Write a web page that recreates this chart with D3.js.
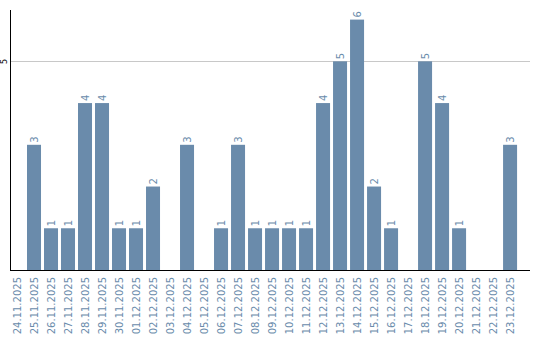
<!DOCTYPE html>
<html>
<head>
<meta charset="utf-8">
<script src="https://cdn.jsdelivr.net/npm/d3@7"></script>
<style>
  body { margin: 0; background: #fff; }
  text { font-family: "DejaVu Sans", sans-serif; }
</style>
</head>
<body>
<div id="chart"></div>
<script>
// Datos del gráfico
const fechas = ["24.11.2025","25.11.2025","26.11.2025","27.11.2025","28.11.2025","29.11.2025",
  "30.11.2025","01.12.2025","02.12.2025","03.12.2025","04.12.2025","05.12.2025","06.12.2025",
  "07.12.2025","08.12.2025","09.12.2025","10.12.2025","11.12.2025","12.12.2025","13.12.2025",
  "14.12.2025","15.12.2025","16.12.2025","17.12.2025","18.12.2025","19.12.2025","20.12.2025",
  "21.12.2025","22.12.2025","23.12.2025"];
const valores = [0,3,1,1,4,4,1,1,2,0,3,0,1,3,1,1,1,1,4,5,6,2,1,0,5,4,1,0,0,3];
const ticksY = [5];

const width = 540, height = 340;
const plotLeft = 10, plotRight = 530, plotTop = 10, plotBottom = 270;
const color = "#6a8bab";

const svg = d3.select("#chart").append("svg")
  .attr("width", width)
  .attr("height", height);

// Escalas
const x = d3.scaleBand()
  .domain(fechas)
  .range([plotLeft, plotRight])
  .paddingInner(0.176)
  .paddingOuter(0.38)
  .align(0);

const y = d3.scaleLinear()
  .domain([0, 6.23])
  .range([plotBottom, plotTop]);

// Línea de cuadrícula
svg.append("g")
  .selectAll("line")
  .data(ticksY)
  .join("line")
    .attr("x1", plotLeft)
    .attr("x2", plotRight)
    .attr("y1", d => Math.round(y(d)) + 0.5)
    .attr("y2", d => Math.round(y(d)) + 0.5)
    .attr("stroke", "#c8c8c8")
    .attr("stroke-width", 1);

// Barras
svg.append("g")
  .selectAll("rect")
  .data(valores)
  .join("rect")
    .attr("x", (d, i) => x(fechas[i]))
    .attr("y", d => y(d))
    .attr("width", x.bandwidth())
    .attr("height", d => plotBottom - y(d))
    .attr("fill", color);

// Etiquetas de valores (giradas)
svg.append("g")
  .selectAll("text")
  .data(valores.map((v, i) => ({v, f: fechas[i]})).filter(d => d.v > 0))
  .join("text")
    .attr("transform", d => `translate(${x(d.f) + x.bandwidth() / 2 + 3.5},${y(d.v) - 2}) rotate(-90)`)
    .attr("font-size", 10)
    .attr("fill", color)
    .text(d => d.v);

// Ejes
svg.append("line")
  .attr("x1", plotLeft + 0.5).attr("x2", plotLeft + 0.5)
  .attr("y1", plotTop).attr("y2", plotBottom)
  .attr("stroke", "#000").attr("stroke-width", 1);

svg.append("line")
  .attr("x1", plotLeft).attr("x2", plotRight)
  .attr("y1", plotBottom + 0.5).attr("y2", plotBottom + 0.5)
  .attr("stroke", "#000").attr("stroke-width", 1);

// Etiqueta del eje Y
svg.append("g")
  .selectAll("text")
  .data(ticksY)
  .join("text")
    .attr("transform", d => `translate(7,${y(d)}) rotate(-90)`)
    .attr("text-anchor", "middle")
    .attr("font-size", 8)
    .attr("fill", "#000")
    .text(d => d);

// Etiquetas del eje X
svg.append("g")
  .selectAll("text")
  .data(fechas)
  .join("text")
    .attr("transform", d => `translate(${x(d) + x.bandwidth() / 2 + 3.5},277) rotate(-90)`)
    .attr("text-anchor", "end")
    .attr("font-size", 10)
    .attr("fill", color)
    .text(d => d);
</script>
</body>
</html>
